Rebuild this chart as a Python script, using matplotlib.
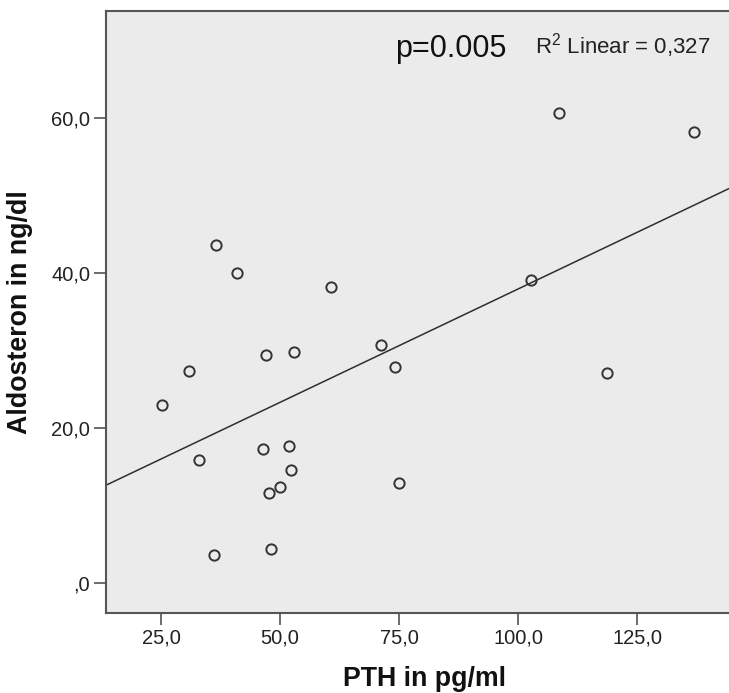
import matplotlib
matplotlib.use("Agg")
import matplotlib.pyplot as plt
from matplotlib.ticker import FuncFormatter
import numpy as np

plt.rcParams['font.family'] = ['Liberation Sans', 'DejaVu Sans']

# PTH (pg/ml) and aldosterone (ng/dl)
pth = [25.2, 30.9, 33.0, 36.1, 36.55, 41.0, 47.0, 46.5, 47.7, 50.05, 48.1,
       51.9, 52.4, 53.0, 60.7, 71.3, 74.1, 74.9, 102.6, 108.6, 118.6, 136.85]
aldo = [23.0, 27.4, 15.9, 3.65, 43.65, 40.0, 29.5, 17.3, 11.65, 12.4, 4.4,
        17.7, 14.65, 29.85, 38.3, 30.7, 27.9, 12.9, 39.1, 60.7, 27.2, 58.2]

x_ticks = [25, 50, 75, 100, 125]
y_ticks = [0, 20, 40, 60]


def spss_fmt(v, pos):
    s = f"{v:.1f}".replace('.', ',')
    if s.startswith('0,'):
        s = s[1:]
    return s


W, H = 729, 693
fig = plt.figure(figsize=(W / 100, H / 100), dpi=100)
# axes runs a little past the right border, like the cropped original
ax = fig.add_axes([106 / W, 80 / H, 636 / W, 602 / H])
ax.set_facecolor('#ebebeb')

ax.set_xlim(13.46, 147.0)
ax.set_ylim(-3.83, 73.85)

# least squares fit line
slope, icpt = np.polyfit(pth, aldo, 1)
xl = np.array(ax.get_xlim())
ax.plot(xl, icpt + slope * xl, color='#2e2e2e', lw=1.1, zorder=2)

ax.plot(pth, aldo, 'o', ms=7.4, mfc='none', mec='#333333', mew=1.4, zorder=3)

ax.set_xticks(x_ticks)
ax.set_yticks(y_ticks)
ax.xaxis.set_major_formatter(FuncFormatter(spss_fmt))
ax.yaxis.set_major_formatter(FuncFormatter(spss_fmt))
ax.tick_params(direction='out', length=8.5, width=1.1, color='#444444',
               labelsize=14.5, labelcolor='#222222', pad=3)

for s in ax.spines.values():
    s.set_color('#555555')
    s.set_linewidth(1.5)

ax.set_xlabel('PTH in pg/ml', fontsize=19.3, fontweight='bold', color='#111111')
ax.set_ylabel('Aldosteron in ng/dl', fontsize=19.3, fontweight='bold', color='#111111')
ax.xaxis.set_label_coords(0.5, -0.088)
ax.yaxis.set_label_coords(-0.115, 0.5)

ax.text(0.454, 0.9236, 'p=0.005', transform=ax.transAxes, fontsize=22,
        va='baseline', ha='left', color='#111111')
ax.text(0.6745, 0.930, r'R$^{\mathregular{2}}$ Linear = 0,327', transform=ax.transAxes,
        fontsize=16, va='baseline', ha='left', color='#222222')

fig.savefig('out.png', dpi=100)
